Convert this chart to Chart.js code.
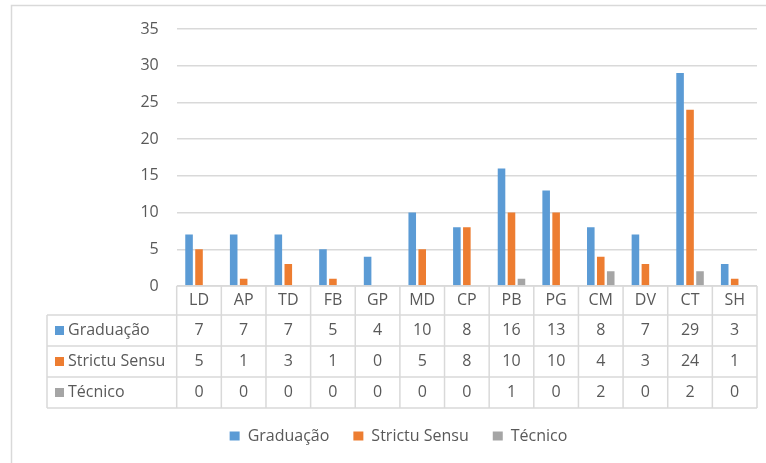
<!DOCTYPE html>
<html>
<head>
<meta charset="utf-8">
<script src="https://cdn.jsdelivr.net/npm/chart.js@4"></script>
<style>
  body { margin: 0; background: #fff; }
  canvas { display: block; }
</style>
</head>
<body>
<canvas id="grafico" width="766" height="463"></canvas>
<script>
// dados do gráfico
const categorias = ['LD', 'AP', 'TD', 'FB', 'GP', 'MD', 'CP', 'PB', 'PG', 'CM', 'DV', 'CT', 'SH'];
const graduacao = [7, 7, 7, 5, 4, 10, 8, 16, 13, 8, 7, 29, 3];
const strictuSensu = [5, 1, 3, 1, 0, 5, 8, 10, 10, 4, 3, 24, 1];
const tecnico = [0, 0, 0, 0, 0, 0, 0, 1, 0, 2, 0, 2, 0];
const seriesNomes = ['Graduação', 'Strictu Sensu', 'Técnico'];
const seriesCores = ['#5B9BD5', '#ED7D31', '#A5A5A5'];
const yTicks = [0, 5, 10, 15, 20, 25, 30, 35];

const corTexto = '#595959';
const corLinha = '#d9d9d9';
const fonte = "'Open Sans', sans-serif";

Chart.defaults.font.family = fonte;
Chart.defaults.font.size = 16;
Chart.defaults.color = corTexto;

// Moldura externa (recortada, como no original)
const molduraPlugin = {
  id: 'moldura',
  beforeDraw(chart) {
    const ctx = chart.ctx;
    ctx.save();
    ctx.fillStyle = '#fff';
    ctx.fillRect(0, 0, chart.width, chart.height);
    ctx.strokeStyle = corLinha;
    ctx.lineWidth = 1.5;
    ctx.strokeRect(11.5, 5.5, 900, 600);
    ctx.restore();
  }
};

// Tabela de dados abaixo do gráfico
const tabelaPlugin = {
  id: 'tabela',
  afterDraw(chart) {
    const ctx = chart.ctx;
    const area = chart.chartArea;
    const x = chart.scales.x;
    const n = categorias.length;
    const larg = (area.right - area.left) / n;
    const topo = area.bottom;
    const cab = 29;
    const linhaH = 31;
    const colEsq = 47;
    const fundo = topo + cab + linhaH * 3;
    const dados = [graduacao, strictuSensu, tecnico];

    ctx.save();
    ctx.strokeStyle = corLinha;
    ctx.lineWidth = 1.5;
    ctx.beginPath();
    // linhas horizontais
    ctx.moveTo(area.left, topo);
    ctx.lineTo(area.right, topo);
    for (let r = 0; r <= 3; r++) {
      const y = topo + cab + linhaH * r;
      ctx.moveTo(colEsq, y);
      ctx.lineTo(area.right, y);
    }
    // linhas verticais
    for (let i = 0; i <= n; i++) {
      const xv = area.left + larg * i;
      ctx.moveTo(xv, topo);
      ctx.lineTo(xv, fundo);
    }
    ctx.moveTo(colEsq, topo + cab);
    ctx.lineTo(colEsq, fundo);
    ctx.stroke();

    ctx.font = `16px ${fonte}`;
    ctx.textBaseline = 'middle';
    dados.forEach((serie, r) => {
      const yc = topo + cab + linhaH * r + linhaH / 2;
      // rótulo da série
      ctx.fillStyle = seriesCores[r];
      ctx.fillRect(55, yc - 4.5, 9, 9);
      ctx.fillStyle = corTexto;
      ctx.textAlign = 'left';
      ctx.fillText(seriesNomes[r], 68, yc);
      // valores
      ctx.textAlign = 'center';
      serie.forEach((v, i) => {
        ctx.fillText(String(v), x.getPixelForValue(i), yc);
      });
    });
    ctx.restore();
  }
};

new Chart(document.getElementById('grafico'), {
  type: 'bar',
  data: {
    labels: categorias,
    datasets: [graduacao, strictuSensu, tecnico].map((d, i) => ({
      label: seriesNomes[i],
      data: d,
      backgroundColor: seriesCores[i],
      borderWidth: 0,
      barPercentage: 0.76,
      categoryPercentage: 0.67
    }))
  },
  options: {
    responsive: false,
    devicePixelRatio: 1,
    animation: false,
    layout: { padding: { left: 40, right: 9, top: 29, bottom: 9 } },
    plugins: {
      tooltip: { enabled: false },
      legend: {
        position: 'bottom',
        labels: {
          boxWidth: 10,
          boxHeight: 9,
          padding: 24,
          color: corTexto,
          font: { size: 16 }
        }
      }
    },
    scales: {
      x: {
        grid: { display: false, drawTicks: false },
        border: { display: false },
        ticks: { padding: 5, color: corTexto, maxRotation: 0 },
        afterFit: s => { s.height = 118; }
      },
      y: {
        min: 0,
        max: 35,
        afterBuildTicks: s => { s.ticks = yTicks.map(v => ({ value: v })); },
        grid: { color: corLinha, lineWidth: 1.5, drawTicks: false },
        border: { display: false },
        ticks: { padding: 18, color: corTexto },
        afterFit: s => { s.width = 136.7; }
      }
    }
  },
  plugins: [molduraPlugin, tabelaPlugin]
});
</script>
</body>
</html>
